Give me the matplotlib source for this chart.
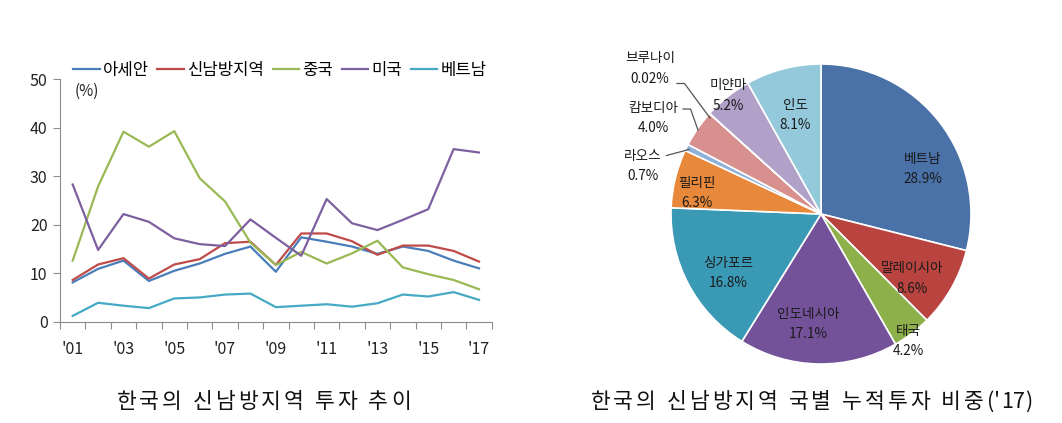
import matplotlib
matplotlib.use("Agg")
import matplotlib.pyplot as plt
import numpy as np

plt.rcParams['font.family'] = ['Noto Sans CJK KR', 'DejaVu Sans']

# ---- left chart data: share of outward investment (%) ----
years = ["'01", "'02", "'03", "'04", "'05", "'06", "'07", "'08", "'09",
         "'10", "'11", "'12", "'13", "'14", "'15", "'16", "'17"]
asean = [8.1, 10.9, 12.6, 8.4, 10.5, 12.0, 14.0, 15.5, 10.3, 17.4, 16.5, 15.5, 14.0, 15.5, 14.6, 12.6, 11.0]
new_south = [8.6, 11.8, 13.1, 8.9, 11.8, 12.9, 16.2, 16.5, 11.7, 18.2, 18.2, 16.6, 13.8, 15.7, 15.7, 14.6, 12.4]
china = [12.6, 27.9, 39.2, 36.1, 39.3, 29.6, 24.8, 16.3, 11.7, 14.4, 12.0, 14.1, 16.7, 11.2, 9.8, 8.6, 6.7]
usa = [28.3, 14.8, 22.2, 20.6, 17.2, 16.0, 15.6, 21.1, 17.3, 13.6, 25.3, 20.3, 18.9, 21.0, 23.2, 35.6, 34.9]
vietnam = [1.2, 3.9, 3.3, 2.8, 4.8, 5.0, 5.6, 5.8, 3.0, 3.3, 3.6, 3.1, 3.8, 5.6, 5.2, 6.1, 4.5]

series_names = ['아세안', '신남방지역', '중국', '미국', '베트남']
series_colors = ['#4a7ebb', '#be4b48', '#98b954', '#7d60a0', '#46aac5']

# ---- right chart data: cumulative investment share by country (%) ----
countries = ['베트남', '말레이시아', '태국', '인도네시아', '싱가포르', '필리핀',
             '라오스', '캄보디아', '브루나이', '미얀마', '인도']
shares = [28.9, 8.6, 4.2, 17.1, 16.8, 6.3, 0.7, 4.0, 0.02, 5.2, 8.1]
share_labels = ['28.9%', '8.6%', '4.2%', '17.1%', '16.8%', '6.3%',
                '0.7%', '4.0%', '0.02%', '5.2%', '8.1%']
pie_colors = ['#4a72a8', '#b8433f', '#8db04a', '#74529a', '#3a9ab5', '#e8883a',
              '#8fb0d8', '#d8908e', '#c8c8c8', '#b1a0c8', '#94c9dc']

W, H = 1062, 423
fig = plt.figure(figsize=(W / 100, H / 100), dpi=100)
renderer = fig.canvas.get_renderer()


def spaced_caption(xc, y, s, size=15.5, track=3, space=8):
    """Caption with the wide letter spacing of the original (x, y in pixels)."""
    parts = []
    for ch in s:
        if ch == ' ':
            parts.append((None, space))
            continue
        t = fig.text(0, 1 - y / H, ch, fontsize=size, ha='left', va='center', color='#111111')
        w = t.get_window_extent(renderer).width
        gap = track if ord(ch) > 0x1000 else 0.5
        parts.append((t, w + gap))
    total = sum(a for _, a in parts)
    xpos = xc - total / 2
    for t, adv in parts:
        if t is not None:
            t.set_x(xpos / W)
        xpos += adv


# ---------------- line chart ----------------
ax = fig.add_axes([60 / W, 1 - 321.7 / H, 431.7 / W, 242.4 / H])
x = np.arange(len(years))
for vals, name, col in zip([asean, new_south, china, usa, vietnam], series_names, series_colors):
    ax.plot(x, vals, color=col, lw=1.6, label=name)

ax.set_xlim(-0.5, len(years) - 0.5)
ax.set_ylim(0, 50)
ax.set_yticks(range(0, 51, 10))
ax.set_xticks(np.arange(-0.5, len(years), 1.0))
ax.set_xticklabels([])
ax.set_xticks(x[::2], minor=True)
ax.set_xticklabels(years[::2], minor=True)
ax.tick_params(axis='x', which='minor', length=0, pad=14, labelsize=11.5, colors='#222222')
ax.tick_params(axis='x', which='major', length=5, color='#8c8c8c', direction='out')
ax.tick_params(axis='y', length=5, color='#8c8c8c', labelsize=11.5, pad=4, labelcolor='#222222')
for s in ['top', 'right']:
    ax.spines[s].set_visible(False)
for s in ['left', 'bottom']:
    ax.spines[s].set_color('#8c8c8c')
ax.text(0.035, 0.95, '(%)', transform=ax.transAxes, fontsize=11, color='#222222', va='center')
ax.legend(loc='lower left', bbox_to_anchor=(0.03, 1.0), ncol=5, frameon=False,
          fontsize=12, handlelength=1.6, handletextpad=0.2, columnspacing=0.5,
          borderaxespad=0, borderpad=0)

spaced_caption(265, 402, '한국의 신남방지역 투자 추이')

# ---------------- pie chart ----------------
cx, cy, r = 821, 214, 150
pax = fig.add_axes([(cx - r) / W, (H - cy - r) / H, 2 * r / W, 2 * r / H])
pax.pie(shares, colors=pie_colors, startangle=90, counterclock=False, radius=1,
        wedgeprops=dict(edgecolor='white', linewidth=1.2))
pax.set_xlim(-1, 1)
pax.set_ylim(-1, 1)
pax.set_aspect('auto')
pax.axis('off')

# label centers relative to pie centre, in radius units
label_pos = [(0.68, 0.30), (0.607, -0.43), (0.58, -0.845), (-0.087, -0.735),
             (-0.62, -0.395), (-0.827, 0.14), (-1.187, 0.318), (-1.12, 0.64),
             (-1.14, 0.97), (-0.62, 0.79), (-0.173, 0.66)]
for name, lab, (lx, ly) in zip(countries, share_labels, label_pos):
    pax.text(lx, ly, name + '\n' + lab, ha='center', va='center', fontsize=9.8,
             color='#1a1a1a', linespacing=1.55, clip_on=False)

# leader lines for the small outside slices
leaders = [((-1.03, 0.39), (-0.88, 0.43)),
           ((-0.92, 0.70), (-0.87, 0.70), (-0.82, 0.56)),
           ((-0.96, 0.87), (-0.91, 0.87), (-0.74, 0.64))]
for pts in leaders:
    xs, ys = zip(*pts)
    pax.plot(xs, ys, color='#555555', lw=0.9, clip_on=False)

spaced_caption(812, 402, "한국의 신남방지역 국별 누적투자 비중('17)")

fig.savefig('out.png', dpi=100)
